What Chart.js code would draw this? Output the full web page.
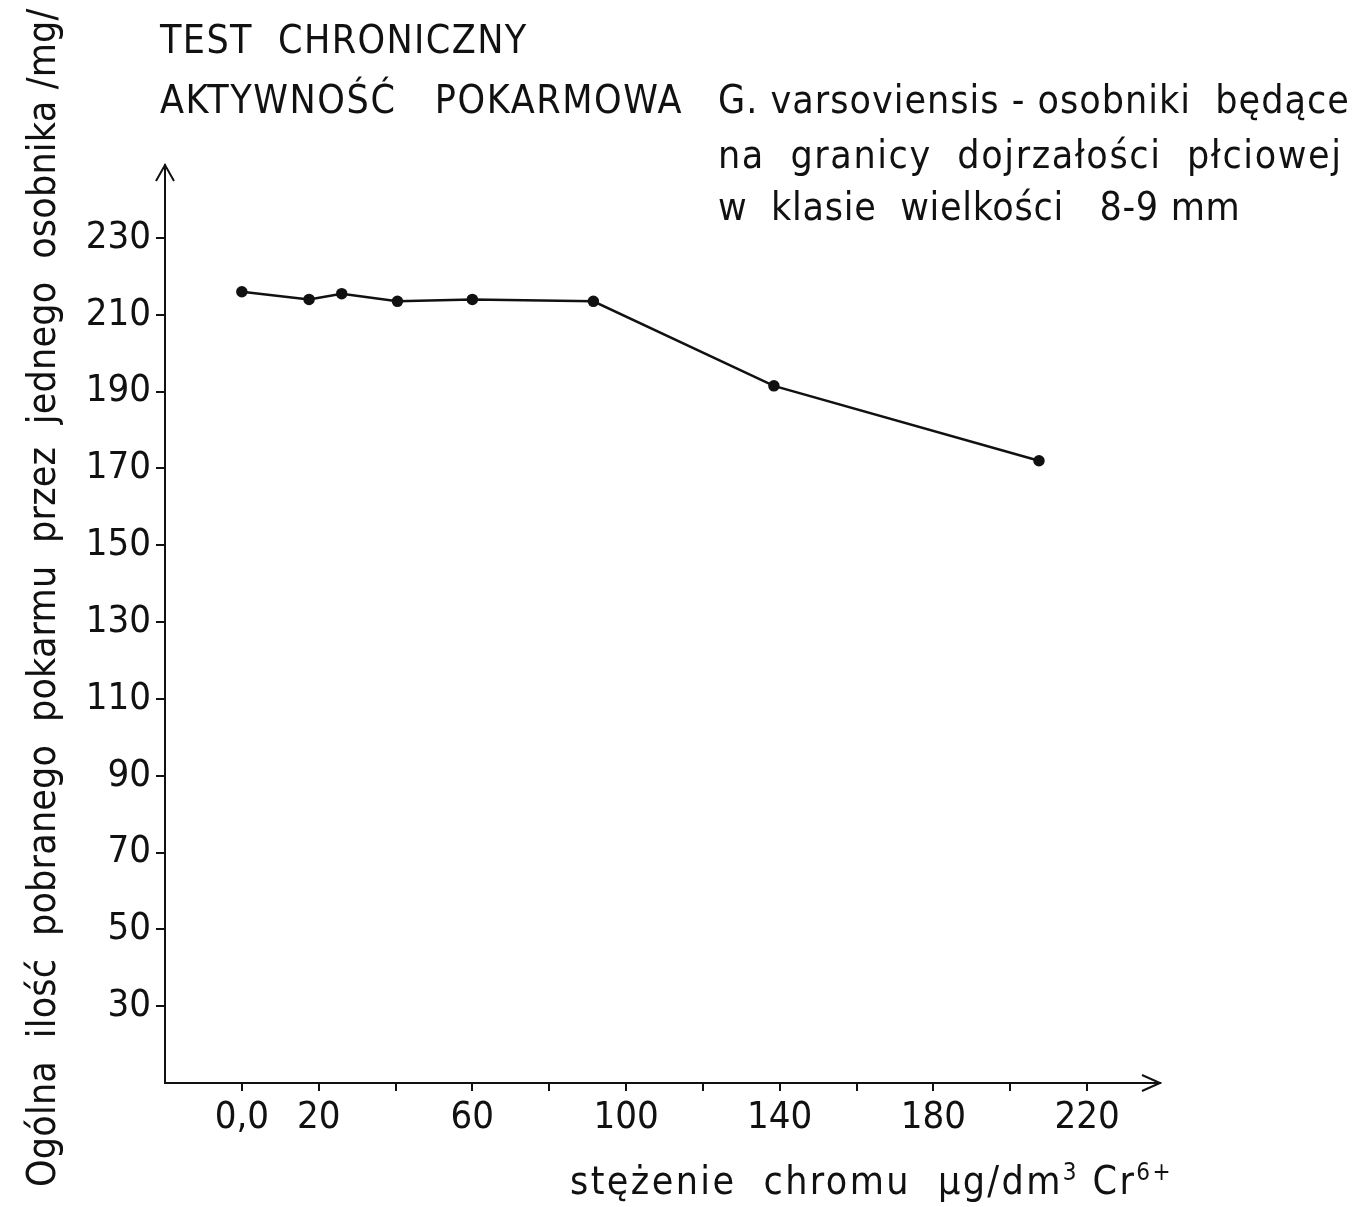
<!DOCTYPE html>
<html>
<head>
<meta charset="utf-8">
<script src="https://cdn.jsdelivr.net/npm/chart.js@4/dist/chart.umd.min.js"></script>
<style>
  html, body { margin: 0; padding: 0; background: #fff; }
  #wrap { position: relative; width: 1360px; height: 1207px; }
  canvas { position: absolute; left: 0; top: 0; }
  .txt {
    position: absolute;
    font-family: "Liberation Sans Narrow", "DejaVu Sans Condensed", sans-serif;
    color: #111;
    white-space: pre;
    line-height: 1;
  }
</style>
</head>
<body>
<div id="wrap">
  <canvas id="chart" width="1360" height="1207"></canvas>
  <div class="txt" style="left:160px; top:20px; font-size:39px; letter-spacing:1.4px;">TEST  CHRONICZNY</div>
  <div class="txt" style="left:160px; top:80px; font-size:39px; letter-spacing:1.6px;">AKTYWNOŚĆ   POKARMOWA</div>
  <div class="txt" style="left:718px; top:80px; font-size:39px; letter-spacing:1px;">G. varsoviensis - osobniki  będące</div>
  <div class="txt" style="left:718px; top:135px; font-size:39px; letter-spacing:1.6px;">na  granicy  dojrzałości  płciowej</div>
  <div class="txt" style="left:718px; top:187px; font-size:39px; letter-spacing:0.7px;">w  klasie  wielkości   8-9 mm</div>
  <div class="txt" style="left:570px; top:1160px; font-size:39px; letter-spacing:2.4px;">stężenie  chromu  µg/dm<sup style="font-size:24px">3</sup> Cr<sup style="font-size:24px">6+</sup></div>
  <div class="txt" id="ytitle" style="left:22px; top:1187px; font-size:39px; letter-spacing:0.2px; transform-origin:0 0; transform:rotate(-90deg);">Ogólna  ilość  pobranego  pokarmu  przez  jednego  osobnika /mg/</div>
</div>
<script>
// stężenie chromu (µg/dm3 Cr6+)
var concentrations = [0, 17.5, 26, 40.5, 60, 91.5, 138.5, 207.5];
// ogólna ilość pobranego pokarmu (mg)
var foodIntake = [216, 214, 215.5, 213.5, 214, 213.5, 191.5, 172];

var xTicks = [0, 20, 40, 60, 80, 100, 120, 140, 160, 180, 200, 220];
var xLabels = ['0,0', '20', '', '60', '', '100', '', '140', '', '180', '', '220'];
var yTicks = [30, 50, 70, 90, 110, 130, 150, 170, 190, 210, 230];

var FONT = '"Liberation Sans Narrow", "DejaVu Sans Condensed", sans-serif';

var points = concentrations.map(function (c, i) { return { x: c, y: foodIntake[i] }; });

// open arrowheads on the ends of both axes
var arrows = {
  id: 'arrows',
  afterDraw: function (chart) {
    var a = chart.chartArea, ctx = chart.ctx;
    ctx.save();
    ctx.strokeStyle = '#111';
    ctx.lineWidth = 2;
    ctx.beginPath();
    ctx.moveTo(a.left - 9, a.top + 16);
    ctx.lineTo(a.left, a.top);
    ctx.lineTo(a.left + 9, a.top + 16);
    ctx.moveTo(a.right - 18, a.bottom - 8);
    ctx.lineTo(a.right, a.bottom);
    ctx.lineTo(a.right - 18, a.bottom + 8);
    ctx.stroke();
    ctx.restore();
  }
};

var ctx = document.getElementById('chart');
var myChart = new Chart(ctx, {
  type: 'scatter',
  data: {
    datasets: [{
      data: points,
      showLine: true,
      borderColor: '#111',
      borderWidth: 2.5,
      backgroundColor: '#111',
      pointRadius: 4.5,
      pointHoverRadius: 4.5
    }]
  },
  options: {
    responsive: false,
    animation: false,
    devicePixelRatio: 1,
    layout: { padding: { left: 0, top: 165, right: 200, bottom: 0 } },
    plugins: { legend: { display: false }, tooltip: { enabled: false } },
    scales: {
      x: {
        type: 'linear',
        min: -20,
        max: 239,
        afterBuildTicks: function (s) { s.ticks = xTicks.map(function (v) { return { value: v }; }); },
        afterFit: function (s) { s.height = 124; },
        border: { display: true, color: '#111', width: 2 },
        grid: { drawOnChartArea: false, drawTicks: true, tickLength: 8, color: '#111', lineWidth: 2 },
        ticks: {
          color: '#111',
          padding: 4,
          maxRotation: 0,
          autoSkip: false,
          font: { family: FONT, size: 38 },
          callback: function (v) { return xLabels[xTicks.indexOf(v)]; }
        }
      },
      y: {
        type: 'linear',
        min: 10,
        max: 249,
        afterBuildTicks: function (s) { s.ticks = yTicks.map(function (v) { return { value: v }; }); },
        afterFit: function (s) { s.width = 165; },
        border: { display: true, color: '#111', width: 2 },
        grid: { drawOnChartArea: false, drawTicks: true, tickLength: 9, color: '#111', lineWidth: 2 },
        ticks: {
          color: '#111',
          padding: 5,
          autoSkip: false,
          font: { family: FONT, size: 38 }
        }
      }
    }
  },
  plugins: [arrows]
});
</script>
</body>
</html>
